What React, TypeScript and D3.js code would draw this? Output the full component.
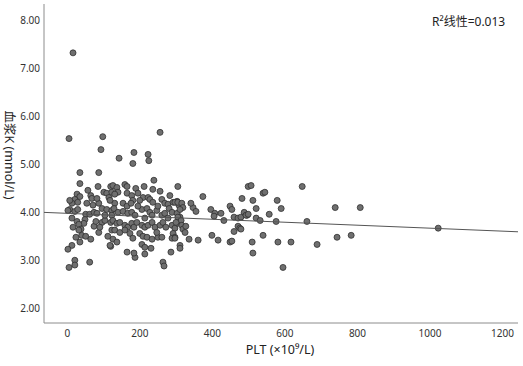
import React, { useEffect, useRef } from 'react';
import * as d3 from 'd3';

// [PLT (x10^9/L), plasma K (mmol/L)]
const samples: [number, number][] = [
  // PLT 0-80
  [6, 5.54], [17, 7.33], [36, 4.83], [36, 4.6], [28, 4.38], [36, 4.33], [22, 4.27], [30, 4.21],
  [14, 4.19], [8, 4.06], [3, 4.04], [22, 4.02], [30, 4.06], [55, 4.19], [66, 4.35], [69, 4.29],
  [52, 3.96], [63, 3.96], [14, 3.88], [28, 3.81], [50, 3.85], [47, 3.77], [17, 3.69], [33, 3.75],
  [39, 3.65], [75, 3.71], [33, 3.63], [41, 3.52], [52, 3.5], [66, 3.44], [25, 3.48], [36, 3.38],
  [14, 3.31], [3, 3.23], [22, 3.0], [22, 2.9], [6, 2.85], [63, 2.96], [72, 4.15], [8, 4.25],
  [58, 4.46], [75, 4.0],
  // PLT 80-180
  [94, 5.31], [99, 5.58], [88, 4.83], [86, 4.54], [88, 4.19], [102, 4.42], [110, 4.4], [116, 4.31],
  [121, 4.54], [124, 4.42], [97, 4.08], [110, 4.06], [124, 4.04], [83, 3.98], [80, 3.81], [97, 3.79],
  [105, 3.83], [121, 3.79], [88, 3.58], [124, 3.63], [121, 3.29], [144, 5.13], [127, 4.56], [138, 4.52],
  [160, 4.58], [166, 4.54], [141, 4.42], [132, 4.38], [166, 4.4], [155, 4.19], [132, 4.19], [166, 4.13],
  [130, 4.08], [141, 4.0], [124, 3.94], [155, 4.02], [168, 3.98], [127, 3.83], [138, 3.77], [146, 3.79],
  [160, 3.73], [168, 3.69], [132, 3.63], [146, 3.58], [160, 3.63], [174, 3.56], [127, 3.44], [138, 3.38],
  [119, 3.31], [166, 3.17], [119, 4.25], [105, 3.94], [91, 3.69], [113, 3.5], [83, 4.29],
  // PLT 180-320
  [185, 5.25], [224, 5.21], [182, 5.02], [240, 4.67], [190, 4.5], [213, 4.54], [237, 4.48], [257, 4.44],
  [306, 4.54], [179, 4.35], [196, 4.4], [210, 4.31], [224, 4.31], [229, 4.27], [237, 4.21], [201, 4.25],
  [182, 4.25], [177, 4.19], [262, 4.27], [270, 4.19], [279, 4.17], [293, 4.21], [304, 4.23], [309, 4.15],
  [179, 4.0], [188, 3.94], [207, 4.06], [221, 4.08], [229, 4.0], [235, 3.94], [248, 4.04], [262, 3.94],
  [270, 3.98], [282, 4.08], [290, 4.0], [304, 3.98], [312, 3.9], [179, 3.77], [185, 3.69], [193, 3.79],
  [207, 3.73], [215, 3.69], [224, 3.73], [235, 3.79], [243, 3.69], [257, 3.73], [265, 3.79], [273, 3.69],
  [290, 3.73], [298, 3.67], [306, 3.77], [201, 3.56], [210, 3.5], [221, 3.48], [235, 3.44], [251, 3.48],
  [262, 3.48], [293, 3.56], [298, 3.48], [182, 3.46], [207, 3.33], [215, 3.27], [232, 3.25], [290, 3.46],
  [188, 3.06], [185, 3.15], [215, 3.13], [287, 3.17], [265, 2.96], [268, 2.88], [257, 5.67], [226, 5.08],
  [284, 4.35], [251, 4.13], [196, 4.13], [215, 3.88], [279, 3.88], [248, 3.58], [312, 3.31], [298, 4.21],
  [306, 4.21],
  // PLT 300-560
  [375, 4.33], [317, 4.19], [320, 4.1], [312, 4.06], [306, 3.9], [315, 3.83], [301, 3.79], [317, 3.73],
  [320, 3.65], [326, 3.58], [298, 3.46], [312, 3.25], [337, 3.44], [362, 3.42], [348, 4.1], [356, 4.02],
  [397, 4.06], [408, 3.98], [425, 3.98], [406, 3.92], [433, 3.83], [450, 4.13], [455, 4.06], [483, 4.29],
  [461, 3.9], [472, 3.88], [480, 3.9], [489, 4.0], [472, 3.71], [477, 3.67], [461, 3.6], [450, 3.38],
  [455, 3.4], [417, 3.42], [400, 3.52], [500, 4.54], [508, 4.56], [513, 4.25], [497, 3.94], [522, 4.08],
  [494, 3.94], [500, 3.96], [522, 3.88], [533, 3.83], [480, 3.65], [511, 3.38], [513, 3.15], [541, 3.52],
  [342, 4.19], [328, 3.71],
  // PLT 540+
  [541, 4.4], [546, 4.42], [580, 4.25], [591, 4.08], [558, 3.96], [577, 3.81], [662, 3.81], [582, 3.38],
  [618, 3.38], [690, 3.33], [596, 2.85], [649, 4.54], [740, 4.1], [809, 4.1], [745, 3.48], [784, 3.52],
  [1024, 3.67],
];

const xTicks = [0, 200, 400, 600, 800, 1000, 1200];
const yTicks = [2, 3, 4, 5, 6, 7, 8];

// linear fit reported by the chart
const fitIntercept = 3.98;
const fitSlope = -0.00031;
const r2Label = 'R²线性=0.013';
const xTitle = 'PLT (×10⁹/L)';
const yTitle = '血浆K (mmol/L)';

const W = 523;
const H = 366;

const Scatter: React.FC = () => {
  const ref = useRef<SVGSVGElement | null>(null);

  useEffect(() => {
    if (!ref.current) return;
    const svg = d3.select(ref.current);
    svg.selectAll('*').remove();

    const x = d3.scaleLinear().domain([-63, 1244]).range([44, 518]);
    const y = d3.scaleLinear().domain([1.69, 8.35]).range([323, 4]);

    const font = '"Noto Sans", "Noto Sans CJK SC", sans-serif';
    const axisColor = '#8c8c8c';

    // x axis
    const gx = svg
      .append('g')
      .attr('transform', `translate(0,${y(1.69)})`)
      .call(d3.axisBottom(x).tickValues(xTicks).tickSize(0).tickPadding(7).tickFormat(d3.format('d')));
    gx.select('.domain').attr('stroke', axisColor).attr('d', `M${x(-63)},0H${x(1244)}`);
    gx.selectAll('text').attr('font-family', font).attr('font-size', 10).attr('fill', '#333');

    // y axis
    const gy = svg
      .append('g')
      .attr('transform', `translate(${x(-63)},0)`)
      .call(d3.axisLeft(y).tickValues(yTicks).tickSize(0).tickPadding(4).tickFormat(d3.format('.2f')));
    gy.select('.domain').attr('stroke', axisColor).attr('d', `M0,${y(8.35)}V${y(1.69)}`);
    gy.selectAll('text').attr('font-family', font).attr('font-size', 10).attr('fill', '#333');

    // points
    svg
      .append('g')
      .selectAll('circle')
      .data(samples)
      .enter()
      .append('circle')
      .attr('cx', d => x(d[0]))
      .attr('cy', d => y(d[1]))
      .attr('r', 3)
      .attr('fill', '#6f6f6f')
      .attr('stroke', '#303030')
      .attr('stroke-width', 0.8);

    // fit line
    const line = d3
      .line<number>()
      .x(d => x(d))
      .y(d => y(fitIntercept + fitSlope * d));
    svg
      .append('path')
      .datum([-63, 1244])
      .attr('fill', 'none')
      .attr('stroke', '#555')
      .attr('stroke-width', 1)
      .attr('d', line);

    // titles
    svg
      .append('text')
      .attr('x', 280)
      .attr('y', 354)
      .attr('text-anchor', 'middle')
      .attr('font-family', font)
      .attr('font-size', 12.5)
      .attr('fill', '#222')
      .text(xTitle);

    svg
      .append('text')
      .attr('transform', 'translate(5,155) rotate(90)')
      .attr('text-anchor', 'middle')
      .attr('font-family', font)
      .attr('font-size', 12.5)
      .attr('fill', '#222')
      .text(yTitle);

    svg
      .append('text')
      .attr('x', 432)
      .attr('y', 26)
      .attr('font-family', font)
      .attr('font-size', 12)
      .attr('fill', '#222')
      .text(r2Label);
  }, []);

  return <svg ref={ref} width={W} height={H} style={{ position: 'absolute', left: 0, top: 0, background: '#fff' }} />;
};

export default function App() {
  return <Scatter />;
}
